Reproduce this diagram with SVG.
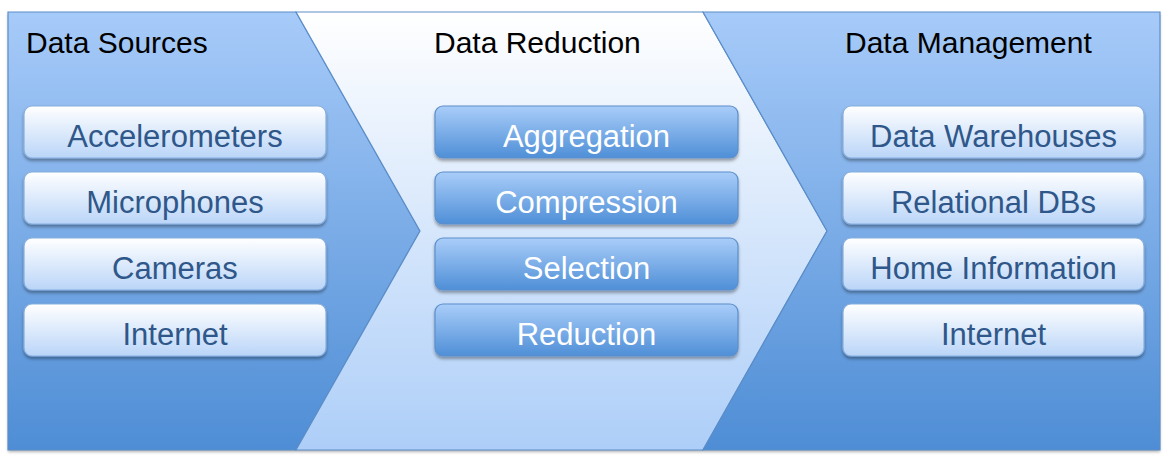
<svg xmlns="http://www.w3.org/2000/svg" width="1169" height="464" viewBox="0 0 1169 464">
<defs>
<linearGradient id="gPanel" x1="0" y1="0" x2="0" y2="1">
<stop offset="0" stop-color="#A7CBF9"/>
<stop offset="1" stop-color="#4E8DD5"/>
</linearGradient>
<linearGradient id="gMid" x1="0" y1="0" x2="0" y2="1">
<stop offset="0" stop-color="#FFFFFF"/>
<stop offset="1" stop-color="#ADCEF8"/>
</linearGradient>
<linearGradient id="gLight" x1="0" y1="0" x2="0" y2="1">
<stop offset="0" stop-color="#FFFFFF"/>
<stop offset="1" stop-color="#BAD5F8"/>
</linearGradient>
<linearGradient id="gDark" x1="0" y1="0" x2="0" y2="1">
<stop offset="0" stop-color="#A9CDF9"/>
<stop offset="1" stop-color="#4F8FD7"/>
</linearGradient>
<filter id="sh" x="-10%" y="-20%" width="120%" height="150%">
<feDropShadow dx="0" dy="2.5" stdDeviation="1.8" flood-color="#000" flood-opacity="0.35"/>
</filter>
<filter id="shOuter" x="-5%" y="-5%" width="110%" height="112%">
<feDropShadow dx="0" dy="2" stdDeviation="1.8" flood-color="#000" flood-opacity="0.3"/>
</filter>
</defs>
<style>
.panel{stroke:#5B8DC8;stroke-width:1.2}
.title{font-family:"Liberation Sans",Arial,sans-serif;font-size:30px;fill:#000}
.lbox{fill:url(#gLight);stroke:#86AEDD;stroke-width:1.2;filter:url(#sh)}
.dbox{fill:url(#gDark);stroke:#5C8FCB;stroke-width:1.2;filter:url(#sh)}
.ltxt{font-family:"Liberation Sans",Arial,sans-serif;font-size:31px;fill:#2F5789;text-anchor:middle}
.dtxt{font-family:"Liberation Sans",Arial,sans-serif;font-size:31px;fill:#FFFFFF;text-anchor:middle}
</style>
<rect x="8" y="12" width="1152" height="438" fill="#ffffff" filter="url(#shOuter)"/>
<g id="panel-sources">
<polygon class="panel" fill="url(#gPanel)" points="8,12 296,12 420,231 296,450 8,450"/>
<text class="title" x="26" y="53">Data Sources</text>
</g>
<g id="panel-reduction">
<polygon class="panel" fill="url(#gMid)" points="296,12 703,12 827,231 703,450 296,450 420,231"/>
<text class="title" x="434" y="53">Data Reduction</text>
</g>
<g id="panel-management">
<polygon class="panel" fill="url(#gPanel)" points="703,12 1160,12 1160,450 703,450 827,231"/>
<text class="title" x="845" y="53">Data Management</text>
</g>
<g id="src-accelerometers"><rect class="lbox" x="24" y="106" width="302" height="52" rx="8"/><text class="ltxt" x="175" y="147">Accelerometers</text></g>
<g id="src-microphones"><rect class="lbox" x="24" y="172" width="302" height="52" rx="8"/><text class="ltxt" x="175" y="213">Microphones</text></g>
<g id="src-cameras"><rect class="lbox" x="24" y="238" width="302" height="52" rx="8"/><text class="ltxt" x="175" y="279">Cameras</text></g>
<g id="src-internet"><rect class="lbox" x="24" y="304" width="302" height="52" rx="8"/><text class="ltxt" x="175" y="345">Internet</text></g>
<g id="red-aggregation"><rect class="dbox" x="435" y="106" width="303" height="52" rx="8"/><text class="dtxt" x="586.5" y="147">Aggregation</text></g>
<g id="red-compression"><rect class="dbox" x="435" y="172" width="303" height="52" rx="8"/><text class="dtxt" x="586.5" y="213">Compression</text></g>
<g id="red-selection"><rect class="dbox" x="435" y="238" width="303" height="52" rx="8"/><text class="dtxt" x="586.5" y="279">Selection</text></g>
<g id="red-reduction"><rect class="dbox" x="435" y="304" width="303" height="52" rx="8"/><text class="dtxt" x="586.5" y="345">Reduction</text></g>
<g id="mgmt-warehouses"><rect class="lbox" x="843" y="106" width="301" height="52" rx="8"/><text class="ltxt" x="993.5" y="147">Data Warehouses</text></g>
<g id="mgmt-relational"><rect class="lbox" x="843" y="172" width="301" height="52" rx="8"/><text class="ltxt" x="993.5" y="213">Relational DBs</text></g>
<g id="mgmt-home"><rect class="lbox" x="843" y="238" width="301" height="52" rx="8"/><text class="ltxt" x="993.5" y="279">Home Information</text></g>
<g id="mgmt-internet"><rect class="lbox" x="843" y="304" width="301" height="52" rx="8"/><text class="ltxt" x="993.5" y="345">Internet</text></g>
<g id="connectors"></g>
</svg>
